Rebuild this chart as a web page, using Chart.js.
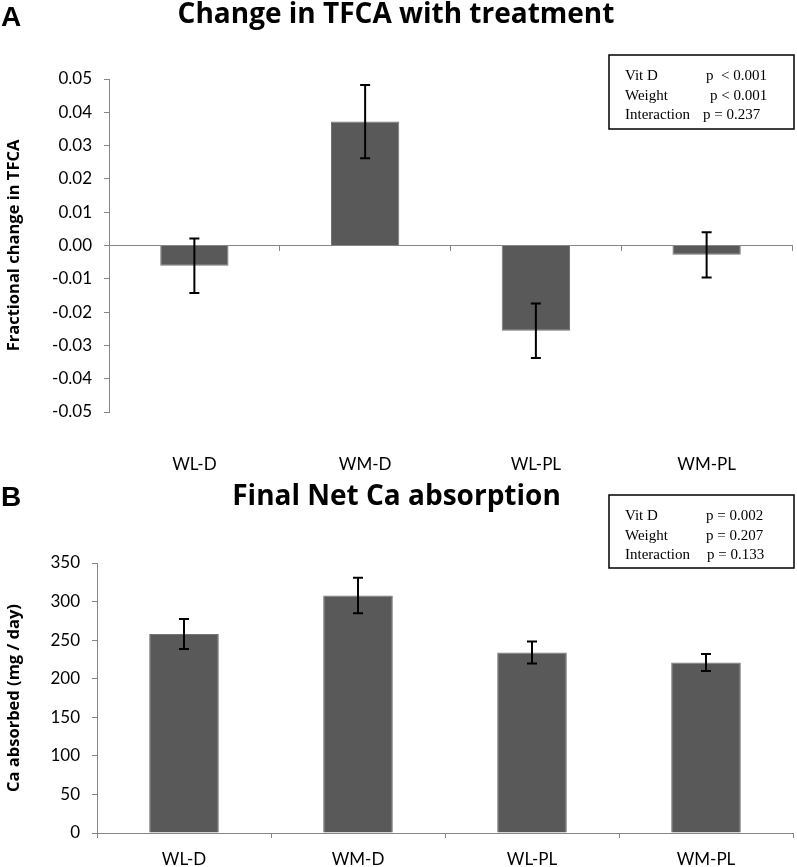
<!DOCTYPE html>
<html>
<head>
<meta charset="utf-8">
<script src="https://cdn.jsdelivr.net/npm/chart.js@4.4.0/dist/chart.umd.min.js"></script>
<style>
  body { margin: 0; background: #fff; }
  canvas { display: block; }
</style>
</head>
<body>
<canvas id="chartA" width="797" height="480"></canvas>
<canvas id="chartB" width="797" height="387"></canvas>
<script>
// groups and values
const groups = ['WL-D', 'WM-D', 'WL-PL', 'WM-PL'];
const tfcaChange = [-0.0061, 0.0372, -0.0256, -0.0028];
const tfcaError = [0.0082, 0.011, 0.0082, 0.0068];
const caAbsorbed = [258, 308, 234, 221];
const caError = [19.5, 23, 14.4, 11.1];

const statNames = ['Vit D', 'Weight', 'Interaction'];
const statsA = ['p  < 0.001', 'p < 0.001', 'p = 0.237'];
const statsB = ['p = 0.002', 'p = 0.207', 'p = 0.133'];

const axisGray = '#868686';
const barGray = '#595959';
const boldFont = '"Open Sans", Lato, sans-serif';

Chart.defaults.font.family = 'Lato, "Open Sans", sans-serif';
Chart.defaults.color = '#000';

const errorBars = {
  id: 'errorBars',
  afterDatasetsDraw(chart, args, opts) {
    const { ctx } = chart;
    const y = chart.scales.y;
    const meta = chart.getDatasetMeta(0);
    const values = chart.data.datasets[0].data;
    ctx.save();
    ctx.strokeStyle = '#000';
    ctx.lineWidth = 2;
    meta.data.forEach((bar, i) => {
      const top = y.getPixelForValue(values[i] + opts.errors[i]);
      const bottom = y.getPixelForValue(values[i] - opts.errors[i]);
      ctx.beginPath();
      ctx.moveTo(bar.x, top);
      ctx.lineTo(bar.x, bottom);
      ctx.moveTo(bar.x - 5, top);
      ctx.lineTo(bar.x + 5, top);
      ctx.moveTo(bar.x - 5, bottom);
      ctx.lineTo(bar.x + 5, bottom);
      ctx.stroke();
    });
    ctx.restore();
  }
};

// panel letter + p-value box
const panelNotes = {
  id: 'panelNotes',
  afterDraw(chart, args, opts) {
    const { ctx } = chart;
    ctx.save();
    ctx.fillStyle = '#000';
    ctx.font = 'bold 28px "Liberation Sans", Arial, sans-serif';
    ctx.textBaseline = 'alphabetic';
    ctx.fillText(opts.letter, 1, opts.letterY);

    const [bx, by, bw, bh] = opts.box;
    ctx.strokeStyle = '#000';
    ctx.lineWidth = 1.5;
    ctx.strokeRect(bx, by, bw, bh);
    ctx.font = '15px "Liberation Serif", "Times New Roman", serif';
    statNames.forEach((name, i) => {
      const y = opts.rowY[i];
      ctx.fillText(name, bx + 16, y);
      ctx.fillText(opts.stats[i], opts.pX[i], y);
    });
    ctx.restore();
  }
};

function makeChart(id, cfg) {
  return new Chart(document.getElementById(id), {
    type: 'bar',
    data: {
      labels: groups,
      datasets: [{
        data: cfg.values,
        backgroundColor: barGray,
        borderColor: '#757575',
        borderWidth: 1,
        barPercentage: 0.4,
        categoryPercentage: 1
      }]
    },
    options: {
      responsive: false,
      animation: false,
      layout: { padding: { right: cfg.padRight } },
      plugins: {
        legend: { display: false },
        tooltip: { enabled: false },
        title: {
          display: true,
          text: cfg.title,
          font: { family: boldFont, size: 28, weight: 'bold', lineHeight: 1.1 },
          padding: { top: cfg.titleTop, bottom: cfg.titleBottom }
        },
        errorBars: { errors: cfg.errors },
        panelNotes: cfg.notes
      },
      scales: cfg.scales
    },
    plugins: [errorBars, panelNotes]
  });
}

makeChart('chartA', {
  values: tfcaChange,
  errors: tfcaError,
  title: 'Change in TFCA with treatment',
  titleTop: 0,
  titleBottom: 48.2,
  padRight: 5,
  notes: {
    letter: 'A', letterY: 26,
    box: [609, 55, 185, 74],
    rowY: [80, 99.5, 119],
    pX: [706, 710, 703],
    stats: statsA
  },
  scales: {
    x: {
      grid: { display: false, drawTicks: false },
      border: { display: false },
      ticks: { padding: 42, font: { size: 17 } },
      afterFit: (s) => { s.height = 68; }
    },
    zero: {
      type: 'category',
      axis: 'x',
      position: { y: 0 },
      offset: true,
      grid: { offset: true, drawOnChartArea: false, tickLength: 5, color: axisGray },
      border: { color: axisGray },
      ticks: { display: false }
    },
    y: {
      min: -0.05,
      max: 0.05,
      ticks: {
        stepSize: 0.01,
        padding: 12,
        font: { size: 17 },
        callback: (v) => v.toFixed(2)
      },
      grid: { drawOnChartArea: false, tickLength: 5, color: axisGray },
      border: { color: axisGray },
      title: {
        display: true,
        text: 'Fractional change in TFCA',
        font: { family: boldFont, size: 16.5, weight: 'bold' },
        padding: { top: 4, bottom: 0 }
      },
      afterFit: (s) => { s.width = 109; }
    }
  }
});

makeChart('chartB', {
  values: caAbsorbed,
  errors: caError,
  title: 'Final Net Ca absorption',
  titleTop: 1.6,
  titleBottom: 50.6,
  padRight: 4,
  notes: {
    letter: 'B', letterY: 26,
    box: [609, 15, 185, 73],
    rowY: [39.5, 59.5, 79],
    pX: [706, 706, 707],
    stats: statsB
  },
  scales: {
    x: {
      grid: { offset: true, drawOnChartArea: false, tickLength: 5, color: axisGray },
      border: { color: axisGray },
      ticks: { padding: 11, font: { size: 17 } },
      afterFit: (s) => { s.height = 34; }
    },
    y: {
      min: 0,
      max: 350,
      ticks: { stepSize: 50, padding: 12, font: { size: 17 } },
      grid: { drawOnChartArea: false, tickLength: 5, color: axisGray },
      border: { color: axisGray },
      title: {
        display: true,
        text: 'Ca absorbed (mg / day)',
        font: { family: boldFont, size: 16.5, weight: 'bold' },
        padding: { top: 4, bottom: 0 }
      },
      afterFit: (s) => { s.width = 97; }
    }
  }
});
</script>
</body>
</html>
